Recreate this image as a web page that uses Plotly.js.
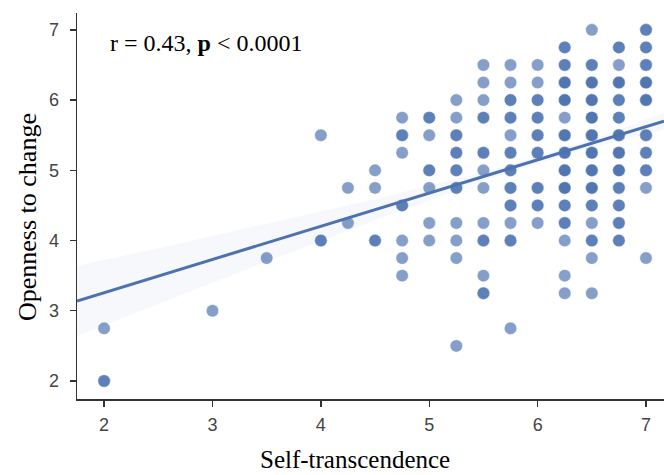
<!DOCTYPE html>
<html>
<head>
<meta charset="utf-8">
<script src="https://cdn.plot.ly/plotly-3.0.1.min.js"></script>
<style>html,body{margin:0;padding:0;background:#fff;}#chart{width:664px;height:475px;}</style>
</head>
<body>
<div id="chart"></div>
<script>
// Unique observed grid positions (Self-transcendence, Openness to change) and how many respondents overlap there
const ptX = [
  2,2, 3, 3.5, 4,4, 4.25,4.25, 4.5,4.5,4.5,
  4.75,4.75,4.75,4.75,4.75,4.75,4.75,
  5,5,5,5,5,5,
  5.25,5.25,5.25,5.25,5.25,5.25,5.25,5.25,5.25,5.25,
  5.5,5.5,5.5,5.5,5.5,5.5,5.5,5.5,5.5,5.5,5.5,
  5.75,5.75,5.75,5.75,5.75,5.75,5.75,5.75,5.75,5.75,5.75,5.75,
  6,6,6,6,6,6,6,6,6,
  6.25,6.25,6.25,6.25,6.25,6.25,6.25,6.25,6.25,6.25,6.25,6.25,6.25,6.25,
  6.5,6.5,6.5,6.5,6.5,6.5,6.5,6.5,6.5,6.5,6.5,6.5,6.5,6.5,
  6.75,6.75,6.75,6.75,6.75,6.75,6.75,6.75,6.75,6.75,6.75,6.75,
  7,7,7,7,7,7,7,7,7,7
];
const ptY = [
  2.75,2, 3, 3.75, 5.5,4, 4.75,4.25, 5,4.75,4,
  5.75,5.5,5.25,4.5,4,3.75,3.5,
  5.75,5.5,5,4.75,4.25,4,
  6,5.75,5.5,5.25,5,4.75,4.25,4,3.75,2.5,
  6.5,6.25,6,5.75,5.25,5,4.75,4.25,4,3.5,3.25,
  6.5,6.25,6,5.75,5.5,5.25,5,4.75,4.5,4.25,4,2.75,
  6.5,6.25,6,5.75,5.5,5.25,4.75,4.5,4.25,
  6.75,6.5,6.25,6,5.75,5.5,5.25,5,4.75,4.5,4.25,4,3.5,3.25,
  7,6.5,6.25,6,5.75,5.5,5.25,5,4.75,4.5,4.25,4,3.75,3.25,
  6.75,6.5,6.25,6,5.75,5.5,5.25,5,4.75,4.5,4.25,4,
  7,6.75,6.5,6.25,6,5.5,5.25,5,4.75,3.75
];
const ptN = [
  1,2, 1, 1, 1,2, 1,1, 1,1,2,
  1,2,1,2,1,1,1,
  2,1,2,1,1,1,
  1,1,2,2,2,2,1,1,1,1,
  1,1,1,2,2,1,1,1,2,1,2,
  1,1,2,2,1,2,2,2,2,1,2,1,
  1,1,2,2,2,2,2,2,1,
  2,2,3,3,1,3,3,3,3,2,2,1,1,1,
  1,2,3,3,3,3,3,3,3,2,1,2,1,1,
  2,1,3,2,2,3,3,3,2,2,2,2,
  2,2,2,3,3,2,2,2,1,1
];

// Fitted regression line and its 95% confidence band
const fitX = [1.75, 7.166];
const fitY = [3.14, 5.70];
const ciX = [1.75, 2.5, 3.5, 4.5, 5.5, 6.0, 6.5, 7.166];
const ciUpper = [3.64, 3.89, 4.24, 4.59, 4.97, 5.20, 5.44, 5.82];
const ciLower = [2.64, 3.09, 3.70, 4.29, 4.85, 5.10, 5.32, 5.58];

const statText = 'r = 0.43, <b>p</b> &lt; 0.0001';
const xTitle = 'Self-transcendence';
const yTitle = 'Openness to change';
const tickVals = [2, 3, 4, 5, 6, 7];

const xs = [], ys = [];
for (let i = 0; i < ptX.length; i++) {
  for (let k = 0; k < ptN[i]; k++) { xs.push(ptX[i]); ys.push(ptY[i]); }
}

const blue = '#4C72B0';
const serif = 'Liberation Serif, Times New Roman, serif';
const traces = [
  {
    x: ciX.concat(ciX.slice().reverse()),
    y: ciUpper.concat(ciLower.slice().reverse()),
    type: 'scatter', mode: 'lines', fill: 'toself',
    fillcolor: 'rgba(76,114,176,0.05)', line: {width: 0}, hoverinfo: 'skip'
  },
  {
    x: xs, y: ys, type: 'scatter', mode: 'markers', cliponaxis: false,
    marker: {size: 12.5, color: blue, opacity: 0.68, line: {color: 'rgba(255,255,255,0.6)', width: 0.8}}
  },
  {
    x: fitX, y: fitY, type: 'scatter', mode: 'lines',
    line: {color: blue, width: 3}
  }
];

const axisCommon = {
  showline: true, linecolor: '#333', linewidth: 1.5,
  ticks: 'outside', ticklen: 6, tickwidth: 1.3, tickcolor: '#333',
  showgrid: false, zeroline: false,
  tickfont: {family: 'Liberation Sans, Arial, sans-serif', size: 18, color: '#444'},
  tickvals: tickVals
};

const layout = {
  width: 664, height: 475,
  margin: {l: 77, r: 0, t: 13, b: 76},
  paper_bgcolor: '#fff', plot_bgcolor: '#fff',
  showlegend: false,
  xaxis: Object.assign({}, axisCommon, {range: [1.75, 7.166], ticklabelstandoff: 3}),
  yaxis: Object.assign({}, axisCommon, {range: [1.744, 7.24], ticklabelstandoff: 7}),
  annotations: [
    {
      x: 2.04, y: 6.815, xref: 'x', yref: 'y', xanchor: 'left', yanchor: 'middle',
      text: statText, showarrow: false,
      font: {family: serif, size: 24, color: '#000'}
    },
    {
      x: 0.4736, y: -0.157, xref: 'paper', yref: 'paper', xanchor: 'center', yanchor: 'middle',
      text: xTitle, showarrow: false,
      font: {family: serif, size: 25, color: '#000'}
    },
    {
      x: -0.0852, y: 0.4715, xref: 'paper', yref: 'paper', xanchor: 'center', yanchor: 'middle',
      text: yTitle, showarrow: false, textangle: -90,
      font: {family: serif, size: 26, color: '#000'}
    }
  ]
};

Plotly.newPlot('chart', traces, layout, {displayModeBar: false, staticPlot: true});
</script>
</body>
</html>
